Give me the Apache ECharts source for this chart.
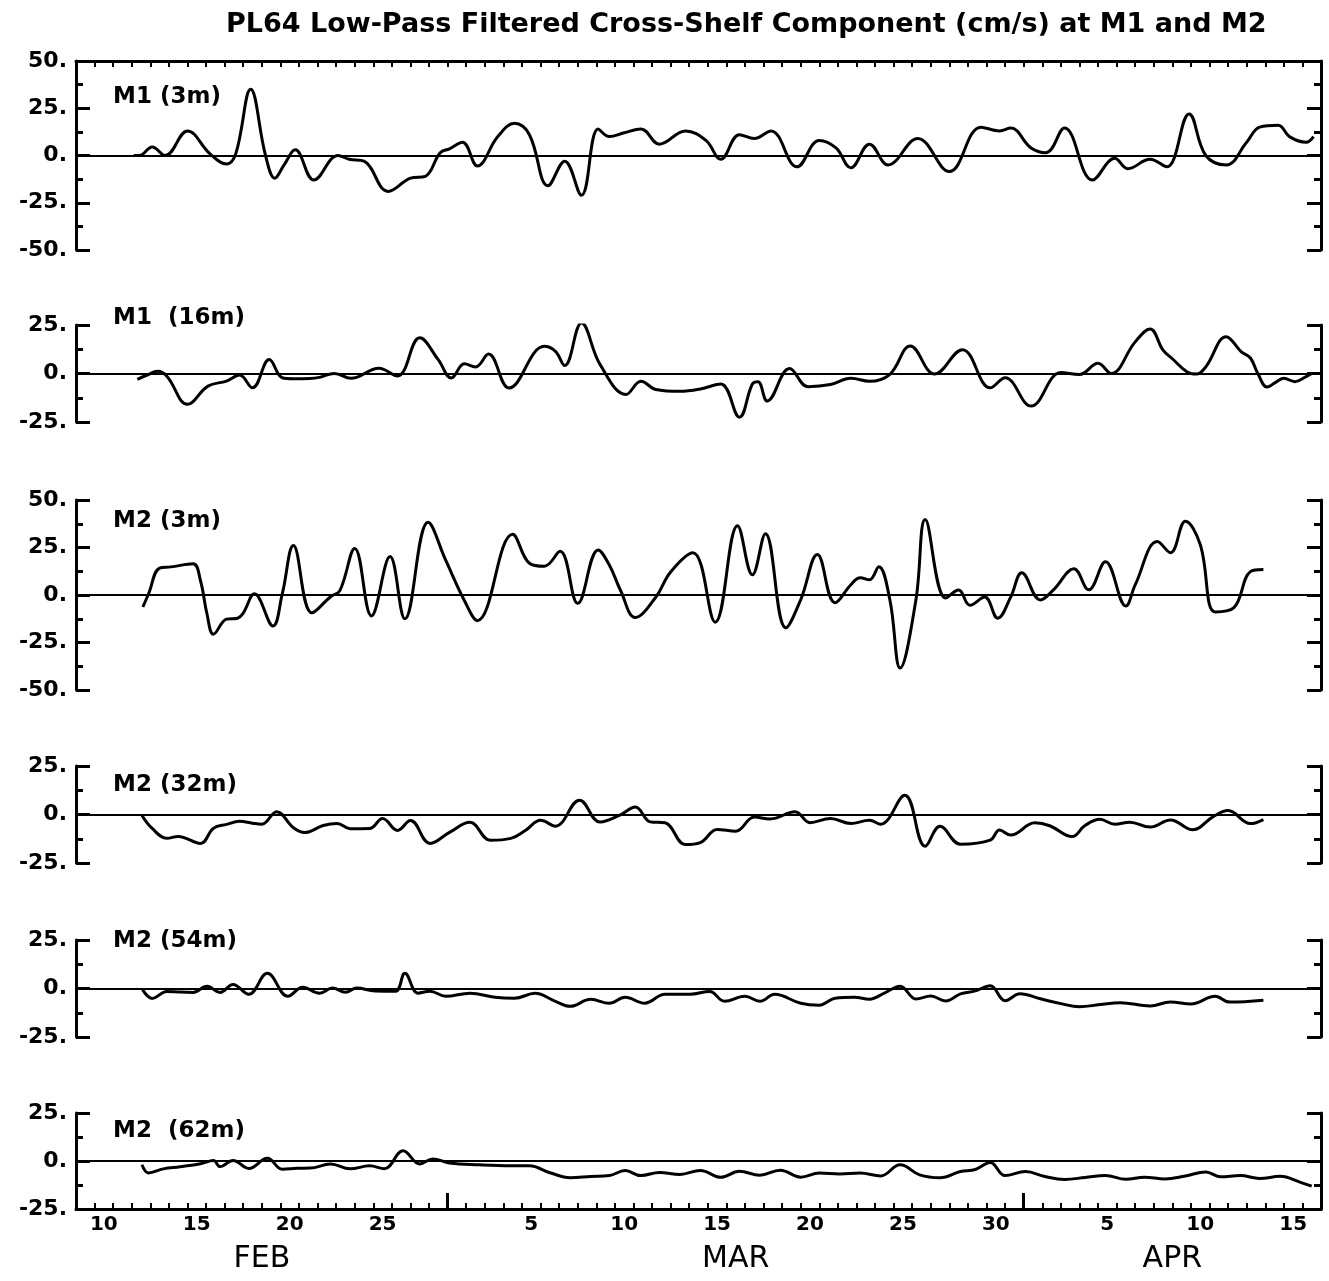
<!DOCTYPE html>
<html><head><meta charset="utf-8">
<script src="https://cdn.jsdelivr.net/npm/echarts/dist/echarts.min.js"></script>
<style>html,body{margin:0;padding:0;background:#fff}#c{width:1329px;height:1281px}</style>
</head><body><div id="c"></div>
<script>
// x: days since 00:00 Feb 9 ; y: cross-shelf velocity (cm/s)
const months = ['FEB', 'MAR', 'APR'];
const monthFirstDay = [9, 1, 1];
const monthDaysShown = [20, 31, 16];

const mainTitle = 'PL64 Low-Pass Filtered Cross-Shelf Component (cm/s) at M1 and M2';
const panelLabels = ['M1 (3m)', 'M1  (16m)', 'M2 (3m)', 'M2 (32m)', 'M2 (54m)', 'M2  (62m)'];
const panelRanges = [50, 25, 50, 25, 25, 25];

const m1_3m_day = [3.1,3.4,4.1,4.8,6.0,7.2,8.1,8.6,9.4,10.2,10.7,11.2,11.8,12.8,14.1,14.7,15.5,16.8,18.0,18.8,19.6,20.1,20.8,21.6,22.7,23.6,24.4,25.4,26.3,27.2,28.1,28.7,29.5,30.4,31.4,32.8,33.9,34.7,35.7,36.5,37.4,38.8,40.0,40.9,41.7,42.7,43.7,45.3,47.0,48.7,49.7,50.3,51.4,52.2,53.2,54.7,55.9,56.6,57.8,58.7,59.9,60.8,61.9,63.0,63.7,64.7,65.3,66.2,66.6];
const m1_3m_val = [0,0,4.5,0,13,1,-4.5,1,35,0,-12,-5,3,-13,0,-2,-3,-19,-12,-11,1.5,3.5,7,-5.5,10,17,11,-16,-3,-21,14,10,12,14,6,13,8,-2,11,9,13,-6,8,4,-6.5,6,-5,9,-8.5,15,13,14.5,4,1.5,14.5,-13,-1.5,-7,-2,-6,22,0,-5,7,15,16,10,7,10];

const m1_16m_day = [3.3,3.8,4.4,4.9,6.0,7.1,8.1,8.8,9.5,10.4,11.1,11.7,12.6,13.1,13.9,14.8,16.3,17.3,18.5,19.5,20.2,20.9,21.5,22.2,23.3,25.2,25.8,26.3,27.2,28.2,29.6,30.4,31.2,32.5,33.6,34.7,35.7,36.4,36.7,37.2,38.4,39.4,40.6,41.7,42.7,43.8,44.9,46.2,47.7,49.2,50.0,51.4,53.0,54.0,55.0,55.7,57.0,57.8,58.5,59.0,59.8,60.3,60.8,61.9,62.7,63.2,63.6,64.1,64.6,65.0,65.6,66.2,66.5];
const m1_16m_val = [-3,-0.9,1.1,-1.5,-15.9,-6.5,-3.9,-0.8,-7.4,7.2,-2.2,-2.7,-2.6,-2,0,-2.5,2.7,-1.3,18.4,7,-2.3,5,3.4,10,-7.5,14,11.4,4.1,26,4.7,-10.8,-4,-8.2,-9.2,-8,-5.4,-22.5,-5.4,-4.3,-14.2,2.6,-6.8,-5.7,-2.5,-4,-0.4,14.2,-0.3,12.3,-7.4,-2.2,-16.8,0.5,-0.5,5.3,0,16.3,23,12,7.6,0.8,-0.3,3.4,19,11.3,8,0,-7,-4.3,-2.5,-4.2,-1.6,0];

const m2_3m_day = [3.6,3.9,4.5,5.1,6.3,6.7,7.05,7.4,8.1,8.7,9.0,9.6,10.6,11.1,11.7,12.7,13.7,14.2,15.0,15.9,16.9,17.7,18.95,19.9,20.9,21.6,23.5,24.4,25.2,26.05,27.0,28.1,28.7,29.3,30.1,31.2,32.0,33.2,34.4,35.6,36.4,37.1,38.2,39.0,39.9,40.85,41.7,42.2,42.7,43.2,43.8,44.35,45.2,45.7,46.8,47.5,48.1,48.9,49.6,50.3,50.9,51.9,52.6,53.7,54.5,55.4,56.5,57.0,58.2,58.9,59.7,60.5,61.3,62.3,63.2,63.9];
const m2_3m_val = [-6.3,0.5,14.2,14.8,16.4,7.5,-10,-20.6,-12.7,-12.2,-9.5,0.6,-16.3,0.6,26,-9.4,-0.9,2.3,24.5,-11,20.2,-12.5,38.3,18.2,-2.9,-13.5,32,16.7,15.1,23,-4.4,23.7,15.8,2.5,-11.8,-1.2,12.1,22.2,-14.3,36.5,10.6,32.3,-17.3,-2.5,21.3,-4.1,5.4,9.1,8,14.9,-2.6,-38.4,-2.6,39.7,-1.6,2.6,-5.4,-1.1,-12.2,-1.1,11.7,-2.6,2.7,13.8,2.7,17.5,-5.8,5.3,28.1,22.3,38.8,26.6,-8.9,-6.8,12.3,13.4];

const m2_32m_day = [3.55,4.1,4.9,5.5,6.7,7.4,8.1,8.8,9.5,10.0,10.8,11.7,12.3,13.3,14.05,14.75,15.8,16.5,17.3,18.0,19.05,20.1,21.2,22.3,23.4,24.2,25.0,25.8,27.1,28.2,29.3,30.1,30.9,31.7,32.8,33.6,34.5,35.5,36.5,37.35,38.7,39.5,40.6,41.7,42.7,43.3,44.6,45.7,46.5,47.6,49.2,49.7,50.3,51.6,52.4,53.6,54.3,55.1,55.9,56.7,57.8,58.9,60.1,61.2,62.0,63.2,63.9];
const m2_32m_val = [-0.5,-7.2,-12.3,-11.3,-14.9,-7.1,-5.1,-3.5,-4.5,-5,1.4,-6.8,-9.3,-5.7,-4.6,-7.3,-7.2,-2.1,-8.2,-3.1,-14.9,-9.2,-4,-13.3,-12.3,-8.1,-3,-6,7.4,-3.9,-0.2,3.9,-3.8,-4.3,-15.5,-14.5,-7.7,-8.6,-1.3,-2.3,1.4,-4.2,-2.1,-4.6,-3,-5,9.9,-16.4,-6.1,-15.3,-13.2,-8,-10.6,-4.3,-5.8,-11.4,-5.7,-2.5,-5,-4,-6.5,-2.8,-7.9,-1.1,2,-4.7,-2.6];

const m2_54m_day = [3.55,4.1,4.9,6.3,7.05,7.75,8.45,9.3,10.3,11.4,12.2,13.1,13.8,14.5,15.1,16.1,17.2,17.7,18.4,19.05,19.9,21.2,22.55,23.6,24.7,25.8,26.6,27.7,28.7,29.55,30.6,31.7,33.05,34.1,34.9,36.0,36.8,37.6,39.0,40.0,40.85,41.9,42.7,43.5,44.35,45.2,46.0,46.8,47.6,48.4,49.2,50.0,50.8,51.9,53.0,54.0,55.1,56.2,57.8,58.9,60.0,61.3,62.1,63.9];
const m2_54m_val = [0,-5.1,-1.5,-2,1.1,-2,2.1,-3,7.8,-4,0.6,-2.4,0.2,-1.9,0.2,-1.3,-1.4,7.9,-2.4,-1.4,-4,-2.4,-4.5,-5,-2.5,-6.6,-9.2,-5.6,-7.6,-4.5,-7.6,-3,-3,-1.5,-6.6,-4,-6.6,-3,-7.6,-8.6,-5,-4.5,-5.5,-2.4,1.2,-5.4,-3.9,-6.4,-2.8,-1.2,1.4,-6.3,-2.7,-5.3,-7.8,-9.4,-8.3,-7.3,-9,-7,-8,-4,-7,-6];

const m2_62m_day = [3.55,3.9,4.7,5.6,6.7,7.4,7.75,8.45,9.3,10.3,11.1,11.9,12.6,13.7,14.75,15.8,16.6,17.6,18.5,19.2,20.1,21.7,23.4,24.4,25.5,26.6,27.7,28.7,29.55,30.4,31.4,32.5,33.6,34.7,35.7,36.8,37.9,39.0,40.0,41.1,42.2,43.3,44.35,45.4,46.5,47.6,48.4,49.2,50.0,51.1,52.15,53.2,54.3,55.4,56.5,57.5,58.6,59.7,60.8,61.6,62.65,63.7,64.8,65.9,66.5];
const m2_62m_val = [-2,-6.2,-4.1,-3,-1.4,0.2,-2.9,0.3,-3.9,1.4,-4.3,-3.8,-3.7,-1.6,-4.1,-2.5,-4,5.3,-1.5,1.1,-1,-2,-2.5,-2.5,-6.1,-8.7,-8.1,-7.6,-5,-7.6,-6,-7,-4.9,-8.5,-5.4,-7.4,-4.8,-8.4,-6.3,-6.8,-6.3,-7.8,-2,-7.2,-8.7,-5.5,-4.4,-0.8,-7.6,-5.5,-8.1,-9.6,-8.6,-7.5,-9.5,-8.4,-9.4,-7.8,-5.7,-8.2,-7.6,-9.1,-8,-11.1,-13.1];

const seriesDays = [m1_3m_day, m1_16m_day, m2_3m_day, m2_32m_day, m2_54m_day, m2_62m_day];
const seriesVals = [m1_3m_val, m1_16m_val, m2_3m_val, m2_32m_val, m2_54m_val, m2_62m_val];

// derived calendar
const dayNumbers = [];
const monthCenters = [];
const monthStartIdx = [];
months.forEach((m, k) => {
  const start = dayNumbers.length;
  if (k > 0) monthStartIdx.push(start);
  for (let d = 0; d < monthDaysShown[k]; d++) dayNumbers.push(monthFirstDay[k] + d);
  monthCenters.push(start + monthDaysShown[k] / 2);
});
const totalDays = dayNumbers.length;

// layout
const panelTops = [61, 325, 500, 766, 940, 1113];
const panelHeights = [189, 97, 190, 97, 97, 96];
const labelTops = [86, 307, 510, 774, 930, 1120];
const FONT = 'DejaVu Sans';

const grids = [], xAxes = [], yAxes = [], series = [];
const titles = [{
  text: mainTitle, left: 226, top: 11, padding: 0,
  textStyle: {fontFamily: FONT, fontSize: 27, fontWeight: 'bold', color: '#000'}
}];

for (let i = 0; i < 6; i++) {
  grids.push({left: 76, right: 8, top: panelTops[i], height: panelHeights[i]});
  const framed = i === 0 || i === 5;
  // frame axis: one interval spanning the period, one minor tick per day
  xAxes.push({
    type: 'value', gridIndex: i, min: 0, max: totalDays, interval: totalDays, show: framed,
    position: i === 0 ? 'top' : 'bottom',
    axisLine: {show: true, onZero: false, lineStyle: {color: '#000', width: 3}},
    axisTick: {show: true, inside: true, length: 6, lineStyle: {color: '#000', width: 2}},
    minorTick: {show: true, splitNumber: totalDays, length: 6, lineStyle: {color: '#000', width: 2}},
    axisLabel: {show: false}, splitLine: {show: false}, minorSplitLine: {show: false}
  });
  const r = panelRanges[i];
  const yBase = {
    type: 'value', gridIndex: i, min: -r, max: r, interval: 25,
    axisLine: {show: true, onZero: false, lineStyle: {color: '#000', width: 3}},
    axisTick: {show: true, inside: true, length: 14, lineStyle: {color: '#000', width: 3}},
    minorTick: {show: true, splitNumber: 2, length: 7, lineStyle: {color: '#000', width: 3}},
    splitLine: {show: false}, minorSplitLine: {show: false}
  };
  yAxes.push(Object.assign({}, yBase, {
    position: 'left',
    axisLabel: {show: true, margin: 9, formatter: v => v + '.', color: '#000',
      fontFamily: FONT, fontWeight: 'bold', fontSize: 22}
  }));
  yAxes.push(Object.assign({}, yBase, {position: 'right', axisLabel: {show: false}}));
  const days = seriesDays[i], vals = seriesVals[i];
  const n = Math.min(days.length, vals.length);
  const data = [];
  for (let k = 0; k < n; k++) data.push([days[k], vals[k]]);
  series.push({
    type: 'line', xAxisIndex: i, yAxisIndex: 2 * i, data: data,
    smooth: 0.4, showSymbol: false, symbol: 'none',
    lineStyle: {color: '#000', width: 3},
    markLine: {silent: true, symbol: 'none', label: {show: false},
      lineStyle: {color: '#000', width: 2, type: 'solid'}, data: [{yAxis: 0}]}
  });
  titles.push({
    text: panelLabels[i], left: 113, top: labelTops[i], padding: 0,
    textStyle: {fontFamily: FONT, fontSize: 23, fontWeight: 'bold', color: '#000'}
  });
}

// bottom: day-of-month labels (centred on each day)
xAxes.push({
  type: 'value', gridIndex: 5, min: 0, max: totalDays, interval: 0.5, position: 'bottom',
  axisLine: {show: false, onZero: false}, axisTick: {show: false}, splitLine: {show: false},
  axisLabel: {show: true, margin: 6, color: '#000', fontFamily: FONT, fontWeight: 'bold', fontSize: 20,
    formatter: v => {
      const h = Math.round(v * 2);
      if (h % 2 !== 1) return '';
      const k = (h - 1) / 2;
      if (k < 0 || k >= dayNumbers.length) return '';
      return dayNumbers[k] % 5 === 0 ? String(dayNumbers[k]) : '';
    }}
});
// bottom: month names centred on visible month span
xAxes.push({
  type: 'value', gridIndex: 5, min: 0, max: totalDays, interval: 0.5, position: 'bottom',
  axisLine: {show: false, onZero: false}, axisTick: {show: false}, splitLine: {show: false},
  axisLabel: {show: true, margin: 35, color: '#000', fontFamily: FONT, fontSize: 30,
    formatter: v => {
      const idx = monthCenters.findIndex(c => Math.abs(c - v) < 1e-6);
      return idx >= 0 ? months[idx] : '';
    }}
});
// bottom: long ticks at month starts (category axis, one band per day)
xAxes.push({
  type: 'category', gridIndex: 5, data: dayNumbers.map(String), boundaryGap: true, position: 'bottom',
  axisLine: {show: false, onZero: false}, axisLabel: {show: false}, splitLine: {show: false},
  axisTick: {show: true, inside: true, length: 16, lineStyle: {color: '#000', width: 3},
    interval: idx => monthStartIdx.indexOf(idx) >= 0}
});

const chart = echarts.init(document.getElementById('c'), null, {renderer: 'canvas'});
chart.setOption({
  animation: false,
  backgroundColor: '#fff',
  title: titles,
  grid: grids,
  xAxis: xAxes,
  yAxis: yAxes,
  series: series
});
</script>
</body></html>
